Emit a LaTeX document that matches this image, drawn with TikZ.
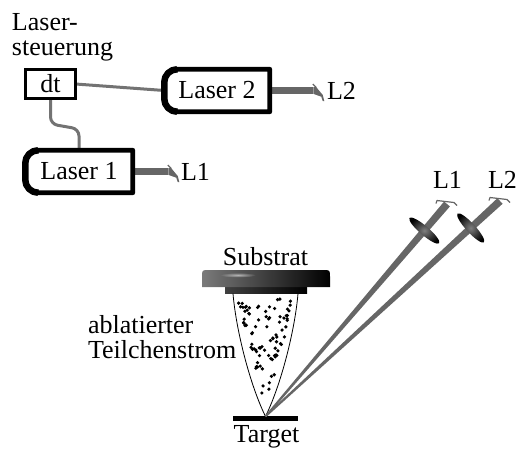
\documentclass[tikz,border=0pt]{standalone}
\usepackage{fontspec}
\setmainfont{Liberation Serif}
\usetikzlibrary{calc,fadings}
\tikzfading[name=glowfade, inner color=transparent!0, outer color=transparent!100]
\definecolor{beamc}{gray}{0.40}
\definecolor{cablec}{gray}{0.45}

% outline of a laser head: rounded on the left, square on the right
\newcommand\laserframe[1]{%
  \draw[frame] (#1.north east) -- ([xshift=13pt]#1.north west)
    arc[start angle=90,end angle=180,radius=13pt] -- ([yshift=13pt]#1.south west)
    arc[start angle=180,end angle=270,radius=13pt] -- (#1.south east) -- cycle;
  \draw[frame, line width=6.5pt, line cap=butt] ([xshift=13pt]#1.north west)
    arc[start angle=90,end angle=180,radius=13pt] -- ([yshift=13pt]#1.south west)
    arc[start angle=180,end angle=270,radius=13pt];
}

\begin{document}
\begin{tikzpicture}[x=1pt,y=-1pt,
  font=\fontsize{26}{26}\selectfont,
  lbl/.style={inner sep=0pt, outer sep=0pt},
  headarea/.style={inner sep=0pt, outer sep=0pt, minimum height=42.5pt},
  frame/.style={line width=4.8pt, line join=round},
  cable/.style={cablec, line width=3pt},
  beambar/.style={beamc, line width=6.6pt},
  beamfill/.style={fill=beamc},
  hook/.style={beamc, line width=1.2pt, line join=round},
  plume/.style={black, line width=0.8pt},
  barend/.pic={
    \fill[beamc] (0,-3.3) -- (3,-3.3) -- (9.5,4.5) -- (11,10.5) -- (9.5,10.5)
      -- (8,6.2) -- (0,3.3) -- cycle;
    \draw[beamc, line width=1.2pt] (-0.5,-6.5) -- (3,-3);
  },
  beamtop/.pic={
    \draw[hook] (-11,-0.5) -- (-10,-3.5) -- (7,-1.5) -- (10,1.5);
  }]
\useasboundingbox (0,0) rectangle (517,450);

% ---------- laser control and laser heads ----------
\node[lbl, anchor=base west] (ctrlA) at (12,30) {Laser-};
\node[lbl, anchor=base west] (ctrlB) at (12,55) {steuerung};

\node[inner sep=0pt, outer sep=0pt, minimum width=50pt, minimum height=29pt] (dt) at (50.5,84) {dt};
\node[headarea, minimum width=105.5pt] (las2) at (217,90.5) {Laser 2};
\node[headarea, minimum width=107.5pt] (las1) at (79,171.5) {Laser 1};

% trigger cables
\draw[cable] (dt.east) -- (las2.west);
\draw[cable, rounded corners=7pt] (dt.south) -- (50.5,124) -- (79,129) -- (las1.north);

% output beams of the heads
\draw[beambar] (las2.east) -- ++(43.5,0) coordinate (e2);
\pic at (e2) {barend};
\draw[beambar] (las1.east) -- ++(35.5,0) coordinate (e1);
\pic at (e1) {barend};

\draw[line width=3.5pt] (dt.south west) rectangle (dt.north east);
\laserframe{las2}
\laserframe{las1}

\node[lbl, anchor=base west] (labL2) at (327,99.5) {L2};
\node[lbl, anchor=base west] (labL1) at (181,180.5) {L1};

% ---------- target and substrate ----------
\node[fill=black, inner sep=0pt, outer sep=0pt, minimum width=65pt, minimum height=4.7pt] (tgt) at (265.5,418.8) {};
\coordinate (apex) at (tgt.north);
\node[lbl, anchor=base] (tgtlbl) at (266.5,442) {Target};

\shade[left color=black!75, right color=black] (225,285) rectangle (307,293.5);
\shade[left color=black!52, right color=black]
  (202,287) -- (202,277) .. controls (202,270) .. (209,270) -- (323,270)
  .. controls (330,270) .. (330,277) -- (330,287) -- cycle;
\fill[white, opacity=0.55, path fading=glowfade] (238,275) ellipse [x radius=18pt, y radius=2.4pt];
\node[lbl, anchor=base] (sub) at (265.5,265) {Substrat};

% plume of ablated particles
\coordinate (pl) at (233,293.5);
\coordinate (pr) at (298,293.5);
\draw[plume] (pl) .. controls (236,330) and (250,385) .. (apex)
  .. controls (281,385) and (295,330) .. (pr);
\pgfmathsetseed{17}
\foreach \i in {1,...,85}{
  \pgfmathsetmacro\hh{14+104*sqrt(rnd)}
  \pgfmathsetmacro\yy{416.5-\hh}
  \pgfmathsetmacro\ww{\hh*0.27-2.5}
  \pgfmathsetmacro\xx{265.5+(2*rnd-1)*\ww}
  \fill (\xx,\yy) circle (1.8pt);
}
\node[lbl, anchor=base west] (ablA) at (88,333) {ablatierter};
\node[lbl, anchor=base west] (ablB) at (88,358) {Teilchenstrom};

% ---------- focused beams with lenses ----------
\coordinate (t1) at (447,204);
\coordinate (t2) at (500,201);
\foreach \t in {t1,t2}{
  \fill[beamfill] ($(\t)!3.8pt!90:(apex)$) -- ($(apex)!0.9pt!-90:(\t)$)
    -- ($(apex)!0.9pt!90:(\t)$) -- ($(\t)!3.8pt!-90:(apex)$) -- cycle;
  \pic at (\t) {beamtop};
}
\coordinate (lens1) at ($(t1)!0.125!(apex)$);
\coordinate (lens2) at ($(t2)!0.125!(apex)$);
\shade[shift={(lens1)}, rotate=-40.5, inner color=black!50, outer color=black]
  (0,0) ellipse [x radius=19.5pt, y radius=4.5pt];
\shade[shift={(lens2)}, rotate=-47.4, inner color=black!50, outer color=black]
  (0,0) ellipse [x radius=19.5pt, y radius=4.5pt];

\node[lbl, anchor=base west] (beamL1) at (433,188) {L1};
\node[lbl, anchor=base west] (beamL2) at (488,188) {L2};
\end{tikzpicture}
\end{document}
